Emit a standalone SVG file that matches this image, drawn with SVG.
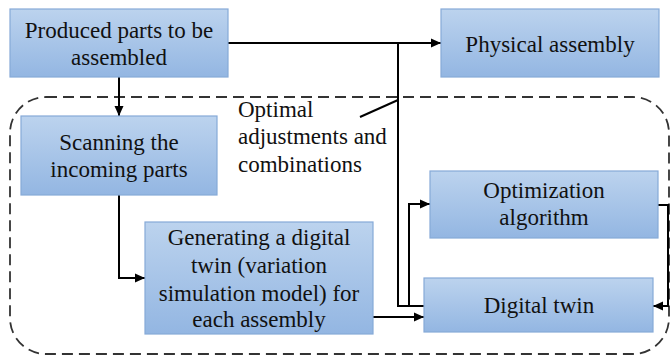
<svg xmlns="http://www.w3.org/2000/svg" width="671" height="357" viewBox="0 0 671 357">
<defs>
<linearGradient id="g" x1="0" y1="0" x2="0" y2="1">
<stop offset="0" stop-color="#bcd3ee"/>
<stop offset="1" stop-color="#93b6e2"/>
</linearGradient>
<marker id="arr" markerUnits="userSpaceOnUse" markerWidth="10" markerHeight="10" viewBox="0 0 10 10" refX="10" refY="5" orient="auto">
<path d="M0,0.5 L10,5 L0,9.5 z" fill="#000"/>
</marker>
<style>
.box{fill:url(#g);stroke:#86aad8;stroke-width:1.2}
.t text{font-size:23px;fill:#111;text-anchor:middle}
.c{fill:none;stroke:#000;stroke-width:2}
.a{marker-end:url(#arr)}
.t text.lbl{text-anchor:start}
</style>
</defs>
<rect x="10" y="97" width="659" height="257" rx="36" ry="36" fill="none" stroke="#333" stroke-width="1.8" stroke-dasharray="11,6"/>
<g id="connectors">
<path class="c a" d="M228,43 H441"/>
<path class="c a" d="M119,77 V116"/>
<path class="c a" d="M119,195 V278 H145"/>
<path class="c a" d="M373,317 H424"/>
<path class="c" d="M424,306 H398 V43"/>
<path class="c a" d="M409,306 V204 H430"/>
<path class="c a" d="M658,205 H668 V306 H653"/>
<path class="c" d="M360,117 L398,100"/>
</g>
<g class="t" font-family="'Liberation Serif', 'Times New Roman', serif">
<g id="n1"><rect class="box" x="10" y="9" width="218" height="68"/><text x="119" y="38">Produced parts to be</text><text x="119" y="65">assembled</text></g>
<g id="n2"><rect class="box" x="441" y="9" width="218" height="68"/><text x="550" y="52">Physical assembly</text></g>
<g id="n3"><rect class="box" x="21" y="116" width="196" height="79"/><text x="119" y="150">Scanning the</text><text x="119" y="177">incoming parts</text></g>
<g id="n4"><rect class="box" x="145" y="222" width="228" height="112"/><text x="259" y="245">Generating a digital</text><text x="259" y="273">twin (variation</text><text x="259" y="301">simulation model) for</text><text x="259" y="327">each assembly</text></g>
<g id="n5"><rect class="box" x="430" y="171" width="228" height="67"/><text x="544" y="198">Optimization</text><text x="544" y="225">algorithm</text></g>
<g id="n6"><rect class="box" x="424" y="278" width="229" height="54"/><text x="539" y="313">Digital twin</text></g>
<g id="label"><text class="lbl" x="238" y="117">Optimal</text><text class="lbl" x="238" y="144">adjustments and</text><text class="lbl" x="238" y="172">combinations</text></g>
</g>
</svg>
